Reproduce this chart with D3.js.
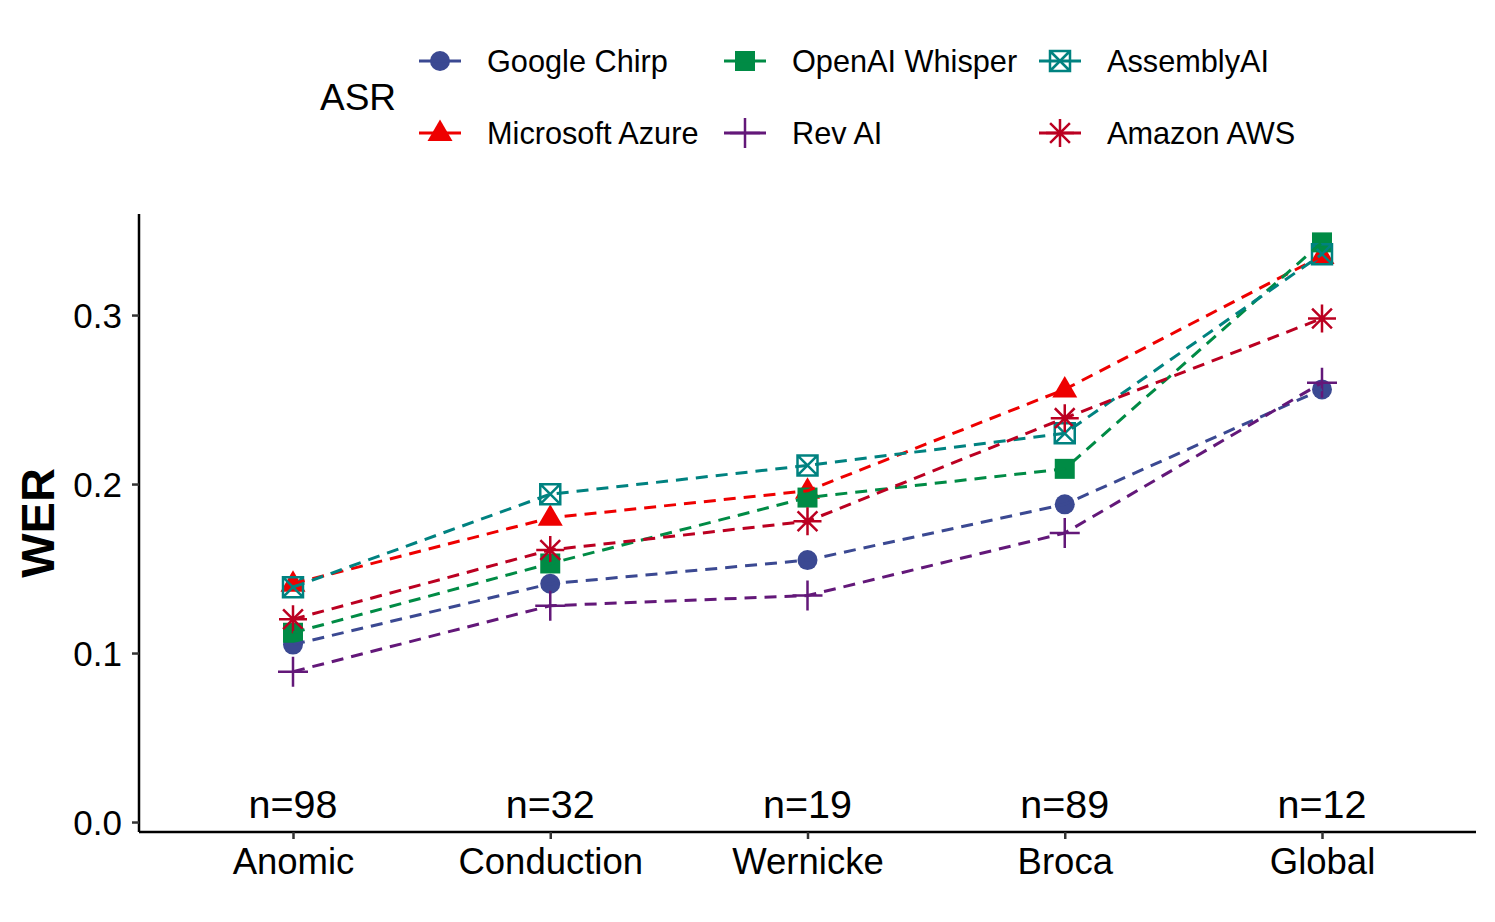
<!DOCTYPE html>
<html><head><meta charset="utf-8">
<script src="https://cdn.jsdelivr.net/npm/d3@7"></script>
<style>body{margin:0;background:#fff;} text{font-family:"Liberation Sans",Arial,sans-serif;}</style>
</head><body>
<svg id="chart" width="1495" height="922"></svg>
<script>
const categories = ["Anomic","Conduction","Wernicke","Broca","Global"];
const counts = ["n=98","n=32","n=19","n=89","n=12"];
const seriesNames = ["Google Chirp","Microsoft Azure","OpenAI Whisper","Rev AI","AssemblyAI","Amazon AWS"];
const googleChirp   = [0.105,0.141,0.155,0.188,0.256];
const microsoftAzure= [0.141,0.180,0.196,0.256,0.335];
const openaiWhisper = [0.112,0.153,0.192,0.209,0.343];
const revAI         = [0.089,0.128,0.134,0.171,0.260];
const assemblyAI    = [0.139,0.194,0.211,0.230,0.336];
const amazonAWS     = [0.120,0.161,0.178,0.239,0.298];
const yTicks = [0.0,0.1,0.2,0.3];
const colors = ["#3B4992","#EE0000","#008B45","#631879","#008280","#BB0021"];
const shapes = ["circle","triangle","square","plus","boxx","asterisk"];
const values = [googleChirp,microsoftAzure,openaiWhisper,revAI,assemblyAI,amazonAWS];

const svg = d3.select("#chart");
const pLeft=139, pRight=1476, pTop=214, pBottom=832;
const x = d3.scalePoint().domain(categories).range([293,1322]);
const y = d3.scaleLinear().domain([-0.0059,0.3598]).range([pBottom,pTop]);

function drawShape(g, shape, color, cx, cy){
  if(shape==="circle") g.append("circle").attr("cx",cx).attr("cy",cy).attr("r",10).attr("fill",color);
  else if(shape==="square") g.append("rect").attr("x",cx-10).attr("y",cy-10).attr("width",20).attr("height",20).attr("fill",color);
  else if(shape==="triangle"){ const h=13.5; g.append("path").attr("d",`M${cx},${cy-h} L${cx+12.5},${cy+8} L${cx-12.5},${cy+8}Z`).attr("fill",color);}
  else if(shape==="plus"){ const s=15; g.append("path").attr("d",`M${cx-s},${cy}H${cx+s}M${cx},${cy-s}V${cy+s}`).attr("stroke",color).attr("stroke-width",2.5).attr("fill","none");}
  else if(shape==="boxx"){ const s=10; g.append("path").attr("d",`M${cx-s},${cy-s}H${cx+s}V${cy+s}H${cx-s}ZM${cx-s},${cy-s}L${cx+s},${cy+s}M${cx+s},${cy-s}L${cx-s},${cy+s}`).attr("stroke",color).attr("stroke-width",2.5).attr("fill","none");}
  else if(shape==="asterisk"){ const s=14, d=s*0.7071; g.append("path").attr("d",`M${cx-s},${cy}H${cx+s}M${cx},${cy-s}V${cy+s}M${cx-d},${cy-d}L${cx+d},${cy+d}M${cx+d},${cy-d}L${cx-d},${cy+d}`).attr("stroke",color).attr("stroke-width",2.5).attr("fill","none");}
}

// axes
const yAxis = svg.append("g").attr("transform",`translate(${pLeft},0)`).call(d3.axisLeft(y).tickValues(yTicks).tickFormat(d3.format(".1f")).tickSize(7).tickPadding(10));
yAxis.select(".domain").attr("d",`M0,${pTop}V${pBottom}`).attr("stroke","#000").attr("stroke-width",2.5);
yAxis.selectAll(".tick line").attr("stroke","#333").attr("stroke-width",2.5);
yAxis.selectAll(".tick text").attr("font-size",35).attr("fill","#000").attr("font-family","Liberation Sans, Arial, sans-serif").attr("dy","0.36em");
const xAxis = svg.append("g").attr("transform",`translate(0,${pBottom})`).call(d3.axisBottom(x).tickSize(7).tickPadding(9));
xAxis.select(".domain").attr("d",`M${pLeft},0H${pRight}`).attr("stroke","#000").attr("stroke-width",2.5);
xAxis.selectAll(".tick line").attr("stroke","#333").attr("stroke-width",2.5);
xAxis.selectAll(".tick text").attr("font-size",36.5).attr("fill","#000").attr("font-family","Liberation Sans, Arial, sans-serif");

svg.append("text").attr("transform",`translate(54,${(pTop+pBottom)/2}) rotate(-90)`).attr("text-anchor","middle").attr("font-size",47).attr("font-weight","bold").text("WER");

// n labels
svg.selectAll(".nlab").data(categories).enter().append("text").attr("x",d=>x(d)).attr("y",y(0)-4).attr("text-anchor","middle").attr("font-size",39.5).text((d,i)=>counts[i]);

// points then lines
const pts = svg.append("g");
values.forEach((vals,si)=>{
  vals.forEach((v,i)=>drawShape(pts, shapes[si], colors[si], x(categories[i]), y(v)));
});
const line = d3.line().x((d,i)=>x(categories[i])).y(d=>y(d));
values.forEach((vals,si)=>{
  svg.append("path").attr("d",line(vals)).attr("fill","none").attr("stroke",colors[si]).attr("stroke-width",3).attr("stroke-dasharray","12,8");
});

// legend
svg.append("text").attr("x",320).attr("y",110).attr("font-size",37).text("ASR");
const cols=[440,745,1060], rows=[61,133];
seriesNames.forEach((name,si)=>{
  const cx = cols[Math.floor(si/2)], cy = rows[si%2];
  const g = svg.append("g");
  drawShape(g, shapes[si], colors[si], cx, cy);
  g.append("path").attr("d",`M${cx-21},${cy}H${cx+21}`).attr("stroke",colors[si]).attr("stroke-width",3);
  g.append("text").attr("x",cx+47).attr("y",cy+11).attr("font-size",30.7).text(name);
});
</script>
</body></html>
